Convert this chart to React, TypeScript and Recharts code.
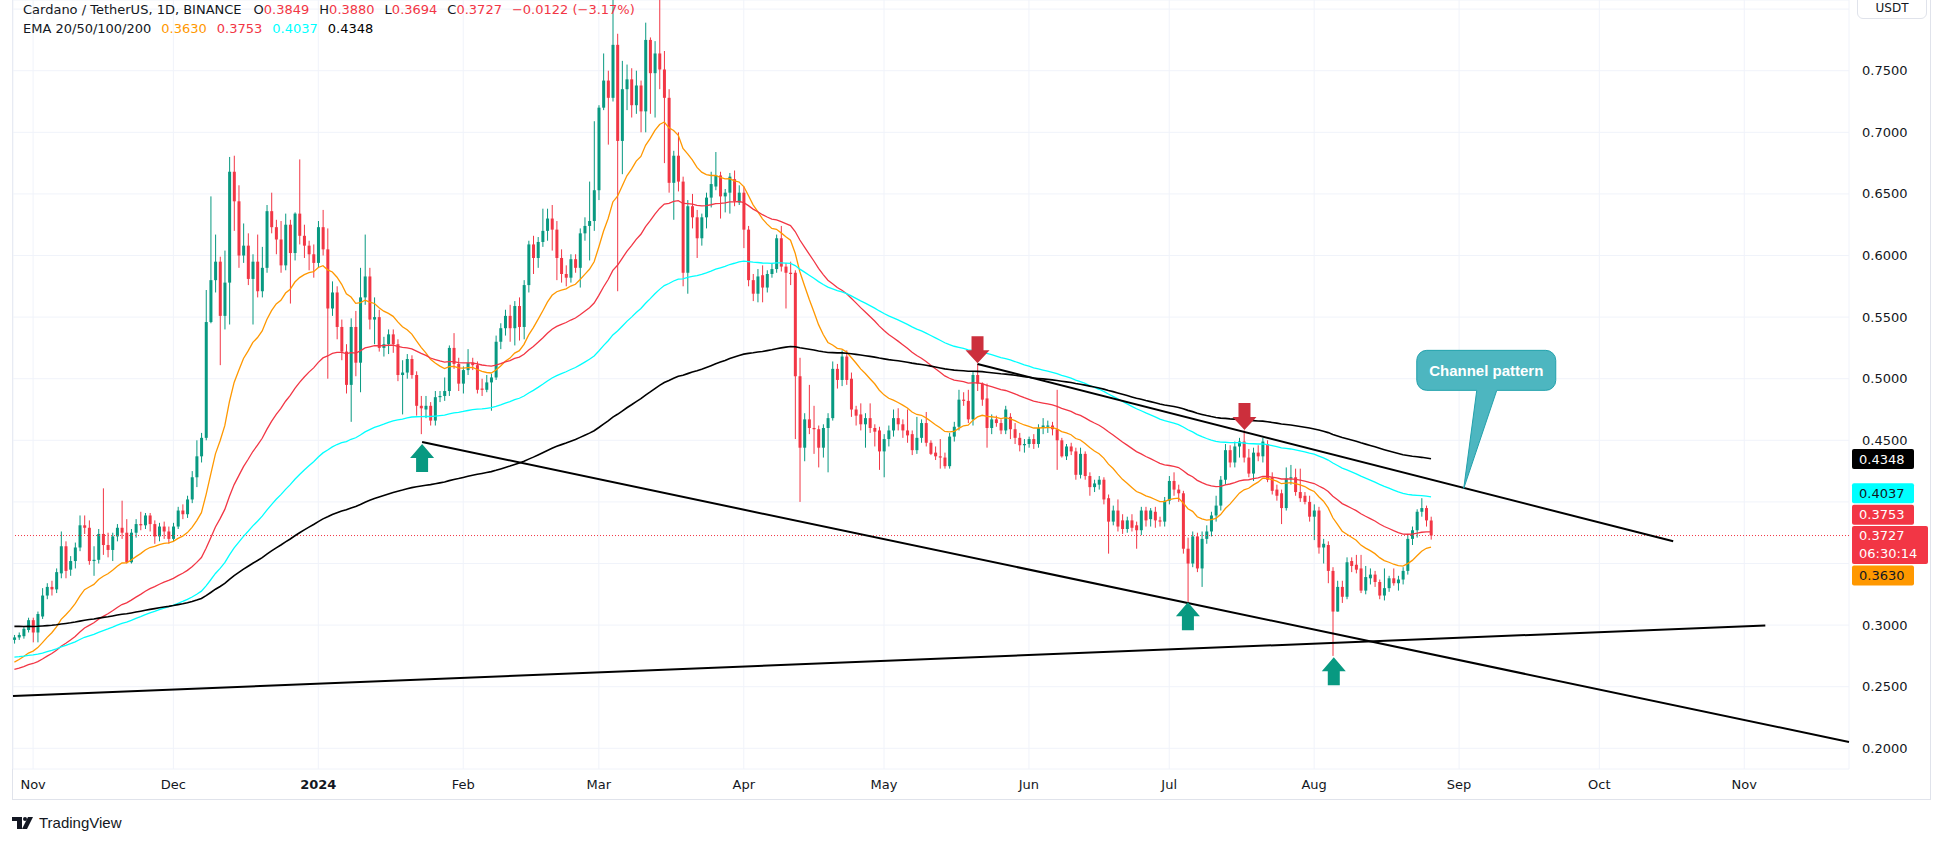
import React from "react";
import {
  ComposedChart,
  Bar,
  Line,
  XAxis,
  YAxis,
  CartesianGrid,
  ReferenceLine,
  ReferenceDot,
} from "recharts";

// ADA/USDT daily candles, [open, high, low, close]
const OCT_2023 = [
  [0.288, 0.292, 0.285, 0.29], [0.29, 0.294, 0.288, 0.292], [0.291, 0.299, 0.289, 0.297], [0.296, 0.306, 0.294, 0.304],
];
const NOV_2023 = [
  [0.304, 0.306, 0.286, 0.294], [0.294, 0.311, 0.286, 0.309], [0.307, 0.33, 0.305, 0.324], [0.324, 0.334, 0.321, 0.331],
  [0.331, 0.336, 0.324, 0.329], [0.329, 0.346, 0.326, 0.343], [0.342, 0.376, 0.338, 0.364], [0.364, 0.368, 0.338, 0.344],
  [0.345, 0.356, 0.34, 0.352], [0.352, 0.367, 0.346, 0.363], [0.363, 0.389, 0.36, 0.381], [0.381, 0.389, 0.374, 0.379],
  [0.379, 0.385, 0.349, 0.352], [0.352, 0.364, 0.34, 0.353], [0.353, 0.378, 0.35, 0.374], [0.374, 0.411, 0.357, 0.365],
  [0.365, 0.375, 0.355, 0.361], [0.361, 0.375, 0.352, 0.372], [0.372, 0.382, 0.368, 0.379], [0.379, 0.401, 0.37, 0.375],
  [0.375, 0.386, 0.35, 0.351], [0.351, 0.378, 0.35, 0.375], [0.375, 0.386, 0.371, 0.382], [0.382, 0.392, 0.377, 0.381],
  [0.381, 0.391, 0.378, 0.389], [0.389, 0.391, 0.376, 0.382], [0.382, 0.385, 0.366, 0.372], [0.372, 0.383, 0.368, 0.38],
  [0.38, 0.384, 0.37, 0.376], [0.376, 0.38, 0.366, 0.37],
];
const DEC_2023 = [
  [0.37, 0.383, 0.368, 0.38], [0.38, 0.396, 0.378, 0.393], [0.393, 0.398, 0.386, 0.39], [0.39, 0.405, 0.387, 0.402],
  [0.402, 0.425, 0.399, 0.42], [0.42, 0.45, 0.412, 0.437], [0.437, 0.456, 0.432, 0.452], [0.452, 0.572, 0.45, 0.546],
  [0.546, 0.648, 0.545, 0.58], [0.58, 0.617, 0.57, 0.595], [0.595, 0.599, 0.511, 0.551], [0.551, 0.604, 0.54, 0.578],
  [0.578, 0.68, 0.544, 0.668], [0.668, 0.681, 0.62, 0.644], [0.644, 0.657, 0.59, 0.6], [0.6, 0.626, 0.594, 0.608],
  [0.608, 0.618, 0.576, 0.581], [0.581, 0.601, 0.544, 0.595], [0.595, 0.617, 0.566, 0.571], [0.571, 0.607, 0.566, 0.59],
  [0.59, 0.641, 0.586, 0.636], [0.636, 0.651, 0.618, 0.623], [0.623, 0.629, 0.601, 0.613], [0.613, 0.628, 0.586, 0.592],
  [0.592, 0.634, 0.588, 0.625], [0.625, 0.629, 0.561, 0.602], [0.602, 0.635, 0.596, 0.634], [0.634, 0.678, 0.609, 0.616],
  [0.616, 0.625, 0.598, 0.608], [0.608, 0.612, 0.588, 0.601], [0.601, 0.609, 0.582, 0.594],
];
const JAN_2024 = [
  [0.594, 0.628, 0.59, 0.623], [0.623, 0.637, 0.6, 0.605], [0.605, 0.622, 0.5, 0.557], [0.557, 0.579, 0.551, 0.57],
  [0.57, 0.575, 0.532, 0.542], [0.542, 0.548, 0.515, 0.522], [0.522, 0.528, 0.488, 0.495], [0.495, 0.549, 0.465, 0.542],
  [0.542, 0.555, 0.502, 0.513], [0.513, 0.59, 0.489, 0.566], [0.566, 0.617, 0.56, 0.583], [0.583, 0.59, 0.54, 0.548],
  [0.548, 0.566, 0.528, 0.55], [0.55, 0.556, 0.522, 0.525], [0.525, 0.534, 0.518, 0.528], [0.528, 0.54, 0.52, 0.536],
  [0.536, 0.54, 0.521, 0.528], [0.528, 0.532, 0.498, 0.503], [0.503, 0.515, 0.471, 0.505], [0.505, 0.52, 0.5, 0.516],
  [0.516, 0.519, 0.5, 0.503], [0.503, 0.506, 0.47, 0.478], [0.478, 0.486, 0.455, 0.476], [0.475, 0.486, 0.468, 0.478],
  [0.478, 0.481, 0.462, 0.466], [0.466, 0.49, 0.462, 0.485], [0.485, 0.49, 0.481, 0.486], [0.486, 0.501, 0.482, 0.49],
  [0.49, 0.527, 0.486, 0.525], [0.525, 0.537, 0.508, 0.512], [0.512, 0.517, 0.49, 0.496],
];
const FEB_2024 = [
  [0.496, 0.51, 0.488, 0.507], [0.507, 0.524, 0.503, 0.513], [0.513, 0.517, 0.507, 0.511], [0.511, 0.514, 0.488, 0.491],
  [0.492, 0.5, 0.486, 0.491], [0.491, 0.503, 0.489, 0.497], [0.497, 0.504, 0.474, 0.501], [0.501, 0.535, 0.499, 0.53],
  [0.53, 0.545, 0.524, 0.541], [0.541, 0.556, 0.535, 0.551], [0.551, 0.56, 0.53, 0.541], [0.541, 0.563, 0.527, 0.559],
  [0.559, 0.566, 0.531, 0.542], [0.542, 0.58, 0.532, 0.576], [0.576, 0.612, 0.57, 0.609], [0.609, 0.616, 0.585, 0.598],
  [0.598, 0.615, 0.59, 0.611], [0.611, 0.638, 0.607, 0.62], [0.62, 0.638, 0.612, 0.63], [0.63, 0.641, 0.604, 0.621],
  [0.621, 0.628, 0.58, 0.598], [0.598, 0.605, 0.578, 0.585], [0.585, 0.592, 0.575, 0.582], [0.582, 0.601, 0.578, 0.597],
  [0.597, 0.601, 0.586, 0.59], [0.59, 0.622, 0.574, 0.618], [0.618, 0.631, 0.612, 0.624], [0.624, 0.66, 0.596, 0.628],
  [0.628, 0.709, 0.62, 0.653],
];
const MAR_2024 = [
  [0.653, 0.722, 0.645, 0.72], [0.72, 0.764, 0.718, 0.742], [0.742, 0.75, 0.69, 0.728], [0.728, 0.808, 0.725, 0.771],
  [0.771, 0.78, 0.571, 0.693], [0.693, 0.758, 0.666, 0.735], [0.735, 0.755, 0.718, 0.743], [0.743, 0.752, 0.712, 0.722],
  [0.722, 0.75, 0.715, 0.738], [0.738, 0.742, 0.7, 0.717], [0.717, 0.789, 0.7, 0.775], [0.775, 0.777, 0.715, 0.748],
  [0.748, 0.774, 0.712, 0.764], [0.764, 0.812, 0.735, 0.751], [0.751, 0.766, 0.675, 0.728], [0.728, 0.735, 0.651, 0.659],
  [0.659, 0.685, 0.629, 0.681], [0.681, 0.7, 0.652, 0.66], [0.66, 0.664, 0.575, 0.586], [0.586, 0.645, 0.569, 0.64],
  [0.64, 0.65, 0.622, 0.631], [0.631, 0.637, 0.598, 0.614], [0.614, 0.634, 0.608, 0.631], [0.631, 0.651, 0.622, 0.647],
  [0.647, 0.668, 0.639, 0.658], [0.656, 0.684, 0.653, 0.665], [0.665, 0.668, 0.63, 0.648], [0.648, 0.654, 0.635, 0.651],
  [0.651, 0.667, 0.634, 0.664], [0.662, 0.669, 0.64, 0.644], [0.643, 0.657, 0.641, 0.651],
];
const APR_2024 = [
  [0.651, 0.656, 0.606, 0.621], [0.621, 0.624, 0.575, 0.58], [0.58, 0.585, 0.563, 0.569], [0.569, 0.589, 0.562, 0.583],
  [0.584, 0.592, 0.562, 0.574], [0.574, 0.588, 0.57, 0.585], [0.585, 0.594, 0.582, 0.589], [0.589, 0.617, 0.586, 0.614],
  [0.614, 0.624, 0.587, 0.591], [0.591, 0.594, 0.557, 0.586], [0.586, 0.595, 0.576, 0.585], [0.586, 0.588, 0.451, 0.502],
  [0.502, 0.517, 0.4, 0.444], [0.444, 0.472, 0.433, 0.467], [0.467, 0.495, 0.455, 0.46], [0.46, 0.478, 0.439, 0.459],
  [0.459, 0.462, 0.428, 0.444], [0.444, 0.463, 0.436, 0.46], [0.46, 0.472, 0.424, 0.468], [0.468, 0.514, 0.466, 0.508],
  [0.508, 0.512, 0.492, 0.499], [0.499, 0.523, 0.494, 0.518], [0.518, 0.523, 0.495, 0.499], [0.5, 0.505, 0.469, 0.475],
  [0.475, 0.478, 0.462, 0.47], [0.471, 0.48, 0.458, 0.463], [0.463, 0.472, 0.444, 0.468], [0.468, 0.48, 0.456, 0.46],
  [0.46, 0.463, 0.445, 0.457], [0.458, 0.461, 0.426, 0.441],
];
const MAY_2024 = [
  [0.441, 0.455, 0.42, 0.451], [0.451, 0.462, 0.445, 0.458], [0.458, 0.475, 0.453, 0.468], [0.468, 0.476, 0.458, 0.463],
  [0.463, 0.467, 0.452, 0.458], [0.458, 0.475, 0.448, 0.454], [0.455, 0.458, 0.438, 0.442], [0.442, 0.469, 0.439, 0.452],
  [0.452, 0.467, 0.448, 0.464], [0.464, 0.473, 0.445, 0.448], [0.448, 0.45, 0.438, 0.439], [0.44, 0.445, 0.434, 0.437],
  [0.437, 0.451, 0.427, 0.436], [0.436, 0.44, 0.427, 0.429], [0.429, 0.456, 0.427, 0.453], [0.453, 0.465, 0.449, 0.461],
  [0.461, 0.491, 0.458, 0.483], [0.483, 0.489, 0.478, 0.482], [0.482, 0.491, 0.464, 0.467], [0.467, 0.506, 0.462, 0.503],
  [0.503, 0.512, 0.49, 0.496], [0.496, 0.497, 0.478, 0.483], [0.484, 0.496, 0.444, 0.46], [0.46, 0.471, 0.455, 0.467],
  [0.467, 0.47, 0.461, 0.464], [0.464, 0.467, 0.455, 0.458], [0.458, 0.478, 0.455, 0.475], [0.469, 0.472, 0.451, 0.459],
  [0.459, 0.464, 0.447, 0.452], [0.452, 0.456, 0.441, 0.446], [0.446, 0.451, 0.44, 0.447],
];
const JUN_2024 = [
  [0.447, 0.453, 0.444, 0.451], [0.451, 0.455, 0.443, 0.447], [0.447, 0.463, 0.444, 0.46], [0.46, 0.468, 0.455, 0.462],
  [0.461, 0.466, 0.456, 0.462], [0.462, 0.465, 0.454, 0.459], [0.459, 0.491, 0.426, 0.45], [0.45, 0.452, 0.436, 0.437],
  [0.437, 0.447, 0.434, 0.445], [0.445, 0.448, 0.438, 0.441], [0.441, 0.444, 0.418, 0.422], [0.422, 0.444, 0.419, 0.439],
  [0.439, 0.441, 0.418, 0.421], [0.421, 0.424, 0.405, 0.412], [0.412, 0.418, 0.408, 0.415], [0.414, 0.421, 0.41, 0.418],
  [0.418, 0.42, 0.398, 0.402], [0.403, 0.406, 0.358, 0.384], [0.384, 0.397, 0.381, 0.393], [0.393, 0.402, 0.376, 0.38],
  [0.385, 0.39, 0.374, 0.378], [0.378, 0.388, 0.375, 0.385], [0.385, 0.39, 0.376, 0.379], [0.381, 0.384, 0.362, 0.377],
  [0.377, 0.396, 0.373, 0.393], [0.393, 0.396, 0.38, 0.385], [0.386, 0.395, 0.38, 0.393], [0.392, 0.396, 0.379, 0.385],
  [0.385, 0.388, 0.38, 0.384], [0.384, 0.404, 0.38, 0.401],
];
const JUL_2024 = [
  [0.401, 0.421, 0.398, 0.417], [0.417, 0.424, 0.405, 0.41], [0.41, 0.414, 0.4, 0.407], [0.407, 0.409, 0.358, 0.362],
  [0.362, 0.371, 0.317, 0.35], [0.35, 0.376, 0.347, 0.372], [0.372, 0.375, 0.343, 0.346], [0.346, 0.376, 0.331, 0.37],
  [0.37, 0.381, 0.366, 0.376], [0.376, 0.392, 0.372, 0.389], [0.389, 0.405, 0.384, 0.397], [0.397, 0.421, 0.393, 0.418],
  [0.418, 0.447, 0.414, 0.442], [0.442, 0.446, 0.428, 0.432], [0.432, 0.449, 0.428, 0.445], [0.445, 0.452, 0.436, 0.449],
  [0.449, 0.458, 0.432, 0.436], [0.436, 0.443, 0.42, 0.423], [0.423, 0.444, 0.417, 0.44], [0.44, 0.446, 0.433, 0.437],
  [0.437, 0.452, 0.432, 0.449], [0.447, 0.45, 0.416, 0.418], [0.42, 0.424, 0.406, 0.409], [0.41, 0.414, 0.401, 0.405],
  [0.407, 0.41, 0.382, 0.395], [0.395, 0.428, 0.393, 0.419], [0.419, 0.43, 0.414, 0.42], [0.42, 0.427, 0.405, 0.408],
  [0.408, 0.427, 0.4, 0.403], [0.405, 0.408, 0.398, 0.4], [0.4, 0.405, 0.384, 0.388],
];
const AUG_2024 = [
  [0.388, 0.398, 0.369, 0.393], [0.393, 0.396, 0.358, 0.363], [0.363, 0.37, 0.35, 0.366], [0.365, 0.368, 0.334, 0.344],
  [0.344, 0.347, 0.275, 0.311], [0.311, 0.336, 0.311, 0.331], [0.331, 0.336, 0.318, 0.323], [0.323, 0.355, 0.321, 0.351],
  [0.352, 0.355, 0.343, 0.348], [0.349, 0.357, 0.342, 0.345], [0.346, 0.357, 0.326, 0.328], [0.328, 0.348, 0.325, 0.339],
  [0.338, 0.346, 0.333, 0.341], [0.341, 0.344, 0.331, 0.335], [0.335, 0.337, 0.321, 0.324], [0.324, 0.346, 0.32, 0.33],
  [0.33, 0.34, 0.327, 0.338], [0.338, 0.346, 0.332, 0.334], [0.334, 0.34, 0.328, 0.337], [0.337, 0.347, 0.333, 0.344],
  [0.344, 0.374, 0.341, 0.37], [0.37, 0.38, 0.365, 0.377], [0.377, 0.394, 0.371, 0.392], [0.392, 0.403, 0.388, 0.395],
  [0.395, 0.397, 0.38, 0.385], [0.3849, 0.388, 0.3694, 0.3727],
];

// day index 0 = 1 Nov 2023; first candle is 28 Oct 2023
const FIRST_DAY = -4;
const MONTH_TICKS = [0, 30, 61, 92, 121, 152, 182, 213, 243, 274, 305, 335, 366];
const MONTH_LABELS = ["Nov", "Dec", "2024", "Feb", "Mar", "Apr", "May", "Jun", "Jul", "Aug", "Sep", "Oct", "Nov"];
const PRICE_TICKS = [0.2, 0.25, 0.3, 0.35, 0.4, 0.45, 0.5, 0.55, 0.6, 0.65, 0.7, 0.75, 0.8];
// axis labels hidden behind the price tags (and the top one under the currency box)
const HIDDEN_TICKS = [0.35, 0.4, 0.8];

const EMA_PERIODS = [20, 50, 100, 200];
const EMA_START = [0.27, 0.264, 0.274, 0.299]; // EMA values read at the first candle
const EMA_COLORS = ["#FF9800", "#F23645", "#00FFFF", "#000000"];
const EMA_LAST = ["0.3630", "0.3753", "0.4037", "0.4348"];

// trend lines: [day, price] pairs
const UPPER_CHANNEL = [[202, 0.512], [350.8, 0.368]];
const LOWER_CHANNEL = [[83.2, 0.4486], [388.4, 0.2051]];
const SUPPORT_LINE = [[-4.3, 0.2425], [370.5, 0.2997]];

const UP_ARROWS = [[83.2, 0.447], [247, 0.3186], [278.2, 0.274]];
const DOWN_ARROWS = [[202, 0.5125], [259.1, 0.4584]];
const CALLOUT_TIP = [306, 0.411];

const X_MIN = -4.3;
const X_MAX = 388.4;
const Y_MIN = 0.1832;
const Y_MAX = 0.8074;

const GREEN = "#089981";
const RED = "#F23645";
const FONT = "'DejaVu Sans', sans-serif";

const candles = [OCT_2023, NOV_2023, DEC_2023, JAN_2024, FEB_2024, MAR_2024, APR_2024, MAY_2024, JUN_2024, JUL_2024, AUG_2024].flat();

function ema(values: number[], period: number, start: number) {
  const k = 2 / (period + 1);
  let prev = start;
  return values.map((v, i) => {
    prev = i === 0 ? start : v * k + prev * (1 - k);
    return prev;
  });
}

const closes = candles.map((c) => c[3]);
const emaSeries = EMA_PERIODS.map((p, i) => ema(closes, p, EMA_START[i]));

const data = candles.map((c, i) => ({
  day: FIRST_DAY + i,
  open: c[0],
  high: c[1],
  low: c[2],
  close: c[3],
  range: [c[2], c[1]],
  ema20: emaSeries[0][i],
  ema50: emaSeries[1][i],
  ema100: emaSeries[2][i],
  ema200: emaSeries[3][i],
}));

const LAST_CLOSE = closes[closes.length - 1];

const AXIS_TAGS = [
  { price: 0.4348, text: "0.4348", bg: "#000000", fg: "#ffffff", shift: 0 },
  { price: 0.4037, text: "0.4037", bg: "#00FFFF", fg: "#131722", shift: -4 },
  { price: 0.3753, text: "0.3753", bg: RED, fg: "#ffffff", shift: -17.5 },
  { price: 0.363, text: "0.3630", bg: "#FF9800", fg: "#131722", shift: 28 },
];

function Candle(props: any) {
  const { x, y, width, height, payload } = props;
  if (!payload || x == null) return null;
  const { open, close, high, low } = payload;
  const top = Math.min(y, y + height);
  const h = Math.abs(height);
  const ppu = h / Math.max(high - low, 1e-9);
  const bTop = top + (high - Math.max(open, close)) * ppu;
  const bBot = top + (high - Math.min(open, close)) * ppu;
  const color = close >= open ? GREEN : RED;
  const cx = x + width / 2;
  return (
    <g>
      <line x1={cx} x2={cx} y1={top} y2={top + h} stroke={color} strokeWidth={1} />
      <rect x={x} y={bTop} width={width} height={Math.max(1, bBot - bTop)} fill={color} />
    </g>
  );
}

function UpArrow({ cx, cy }: any) {
  if (cx == null) return null;
  return (
    <polygon
      points={`${cx},${cy} ${cx + 12},${cy + 14} ${cx + 6},${cy + 14} ${cx + 6},${cy + 28} ${cx - 6},${cy + 28} ${cx - 6},${cy + 14} ${cx - 12},${cy + 14}`}
      fill={GREEN}
    />
  );
}

function DownArrow({ cx, cy }: any) {
  if (cx == null) return null;
  return (
    <polygon
      points={`${cx},${cy} ${cx + 12},${cy - 13} ${cx + 6},${cy - 13} ${cx + 6},${cy - 27} ${cx - 6},${cy - 27} ${cx - 6},${cy - 13} ${cx - 12},${cy - 13}`}
      fill="#cc2f3c"
    />
  );
}

function Callout({ cx, cy }: any) {
  if (cx == null) return null;
  const L = cx - 47, R = cx + 92, T = cy - 138, B = cy - 98, r = 10;
  const d = `M${L + r},${T} H${R - r} A${r},${r} 0 0 1 ${R},${T + r} V${B - r} A${r},${r} 0 0 1 ${R - r},${B} H${cx + 33} L${cx},${cy} L${cx + 13},${B} H${L + r} A${r},${r} 0 0 1 ${L},${B - r} V${T + r} A${r},${r} 0 0 1 ${L + r},${T} Z`;
  return (
    <g>
      <path d={d} fill="#4db6c0" stroke="#22a1ac" strokeWidth={1} />
      <text x={(L + R) / 2} y={(T + B) / 2} textAnchor="middle" dominantBaseline="central" fill="#ffffff" fontFamily="'Liberation Sans', Arial, sans-serif" fontWeight={700} fontSize={15}>
        Channel pattern
      </text>
    </g>
  );
}

function makeTag(tag: { text: string; bg: string; fg: string; shift: number }) {
  return ({ cx, cy }: any) => {
    if (cx == null) return null;
    const yc = cy + tag.shift;
    return (
      <g>
        <rect x={cx + 3} y={yc - 10} width={62} height={20} rx={2} fill={tag.bg} />
        <text x={cx + 10} y={yc} dominantBaseline="central" fill={tag.fg} fontFamily={FONT} fontSize={13}>
          {tag.text}
        </text>
      </g>
    );
  };
}

function LastTag({ cx, cy }: any) {
  if (cx == null) return null;
  return (
    <g>
      <rect x={cx + 3} y={cy - 9.5} width={76} height={38} rx={2} fill={RED} />
      <text x={cx + 10} y={cy} dominantBaseline="central" fill="#ffffff" fontFamily={FONT} fontSize={13}>
        {LAST_CLOSE.toFixed(4)}
      </text>
      <text x={cx + 10} y={cy + 18} dominantBaseline="central" fill="#ffffff" fontFamily={FONT} fontSize={13}>
        06:30:14
      </text>
    </g>
  );
}

function XTick(props: any) {
  const { x, payload } = props;
  const i = MONTH_TICKS.indexOf(payload.value);
  const label = MONTH_LABELS[i];
  return (
    <text x={x} y={789} textAnchor="middle" fill="#131722" fontFamily={FONT} fontSize={13} fontWeight={label === "2024" ? 700 : 400}>
      {label}
    </text>
  );
}

function YTick(props: any) {
  const { y, payload } = props;
  if (HIDDEN_TICKS.some((t) => Math.abs(t - payload.value) < 1e-6)) return null;
  return (
    <text x={1862} y={y} dominantBaseline="central" fill="#131722" fontFamily={FONT} fontSize={13}>
      {payload.value.toFixed(4)}
    </text>
  );
}

export default function App() {
  return (
    <div style={{ position: "absolute", left: 0, top: 0, width: 1946, height: 843, background: "#ffffff", overflow: "hidden" }}>
      <div style={{ position: "absolute", left: 12, top: -1, width: 1919, height: 801, border: "1px solid #e0e3eb", boxSizing: "border-box" }} />
      <ComposedChart
        width={1946}
        height={843}
        data={data}
        margin={{ top: 0, right: 17, bottom: 44, left: 13 }}
        style={{ position: "absolute", left: 0, top: 0 }}
      >
        <CartesianGrid stroke="#f0f3fa" />
        <XAxis
          dataKey="day"
          type="number"
          domain={[X_MIN, X_MAX]}
          allowDataOverflow
          ticks={MONTH_TICKS}
          tick={<XTick />}
          axisLine={false}
          tickLine={false}
          height={30}
        />
        <YAxis
          orientation="right"
          type="number"
          domain={[Y_MIN, Y_MAX]}
          allowDataOverflow
          ticks={PRICE_TICKS}
          tick={<YTick />}
          axisLine={false}
          tickLine={false}
          width={80}
        />
        <ReferenceLine y={LAST_CLOSE} stroke={RED} strokeDasharray="1 2" strokeWidth={1} />
        <Bar dataKey="range" barSize={3} shape={<Candle />} isAnimationActive={false} />
        <Line dataKey="ema20" type="linear" stroke={EMA_COLORS[0]} strokeWidth={1.3} dot={false} isAnimationActive={false} />
        <Line dataKey="ema50" type="linear" stroke={EMA_COLORS[1]} strokeWidth={1.3} dot={false} isAnimationActive={false} />
        <Line dataKey="ema100" type="linear" stroke={EMA_COLORS[2]} strokeWidth={1.3} dot={false} isAnimationActive={false} />
        <Line dataKey="ema200" type="linear" stroke={EMA_COLORS[3]} strokeWidth={1.6} dot={false} isAnimationActive={false} />
        {[UPPER_CHANNEL, LOWER_CHANNEL, SUPPORT_LINE].map((seg, i) => (
          <ReferenceLine
            key={`seg${i}`}
            segment={[{ x: seg[0][0], y: seg[0][1] }, { x: seg[1][0], y: seg[1][1] }]}
            stroke="#000000"
            strokeWidth={2}
          />
        ))}
        {UP_ARROWS.map((a, i) => (
          <ReferenceDot key={`up${i}`} x={a[0]} y={a[1]} ifOverflow="visible" shape={<UpArrow />} />
        ))}
        {DOWN_ARROWS.map((a, i) => (
          <ReferenceDot key={`dn${i}`} x={a[0]} y={a[1]} ifOverflow="visible" shape={<DownArrow />} />
        ))}
        <ReferenceDot x={CALLOUT_TIP[0]} y={CALLOUT_TIP[1]} ifOverflow="visible" shape={<Callout />} />
        {AXIS_TAGS.map((t, i) => (
          <ReferenceDot key={`tag${i}`} x={X_MAX} y={t.price} ifOverflow="visible" shape={makeTag(t)} />
        ))}
        <ReferenceDot x={X_MAX} y={LAST_CLOSE} ifOverflow="visible" shape={<LastTag />} />
      </ComposedChart>

      <div style={{ position: "absolute", left: 23, top: 0, fontFamily: FONT, fontSize: 13, lineHeight: "19px", color: "#131722", whiteSpace: "nowrap" }}>
        <div>
          <span>Cardano / TetherUS, 1D, BINANCE</span>
          <span style={{ marginLeft: 12 }}>O<span style={{ color: RED }}>0.3849</span></span>
          <span style={{ marginLeft: 10 }}>H<span style={{ color: RED }}>0.3880</span></span>
          <span style={{ marginLeft: 10 }}>L<span style={{ color: RED }}>0.3694</span></span>
          <span style={{ marginLeft: 10 }}>C<span style={{ color: RED }}>0.3727</span></span>
          <span style={{ marginLeft: 10, color: RED }}>−0.0122 (−3.17%)</span>
        </div>
        <div>
          <span>EMA 20/50/100/200</span>
          {EMA_LAST.map((v, i) => (
            <span key={v} style={{ marginLeft: 10, color: EMA_COLORS[i] }}>{v}</span>
          ))}
        </div>
      </div>

      <div style={{ position: "absolute", left: 1857, top: -6, width: 70, height: 25, border: "1px solid #e0e3eb", borderRadius: 6, boxSizing: "border-box", fontFamily: FONT, fontSize: 12, color: "#131722", textAlign: "center", lineHeight: "26px", background: "#fff" }}>
        USDT
      </div>

      <svg style={{ position: "absolute", left: 0, top: 810 }} width={200} height={30}>
        <path d="M12 7 H22 V19 H17 V11 H12 Z" fill="#131722" />
        <circle cx={25} cy={9} r={2} fill="#131722" />
        <path d="M28 7 H33 L27 19 H22 Z" fill="#131722" />
        <text x={39} y={18} fill="#131722" fontFamily="'Liberation Sans', Arial, sans-serif" fontSize={15}>
          TradingView
        </text>
      </svg>
    </div>
  );
}
